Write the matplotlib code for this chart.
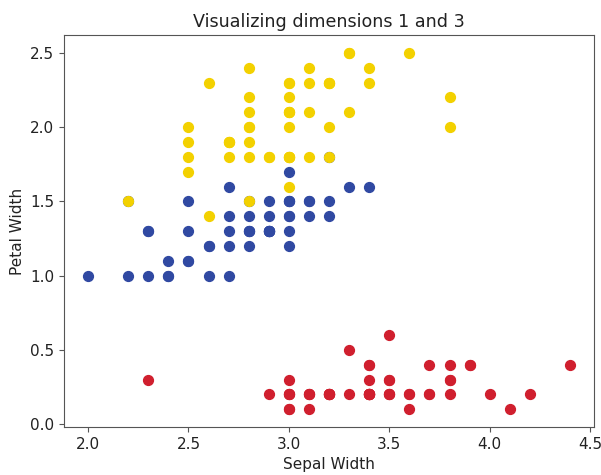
import matplotlib
matplotlib.use("Agg")
import matplotlib.pyplot as plt

# iris: sepal width (dim 1) and petal width (dim 3), per class
setosa_sepal_w = [3.5, 3.0, 3.2, 3.1, 3.6, 3.9, 3.4, 3.4, 2.9, 3.1,
                  3.7, 3.4, 3.0, 3.0, 4.0, 4.4, 3.9, 3.5, 3.8, 3.8,
                  3.4, 3.7, 3.6, 3.3, 3.4, 3.0, 3.4, 3.5, 3.4, 3.2,
                  3.1, 3.4, 4.1, 4.2, 3.1, 3.2, 3.5, 3.6, 3.0, 3.4,
                  3.5, 2.3, 3.2, 3.5, 3.8, 3.0, 3.8, 3.2, 3.7, 3.3]
setosa_petal_w = [0.2, 0.2, 0.2, 0.2, 0.2, 0.4, 0.3, 0.2, 0.2, 0.1,
                  0.2, 0.2, 0.1, 0.1, 0.2, 0.4, 0.4, 0.3, 0.3, 0.3,
                  0.2, 0.4, 0.2, 0.5, 0.2, 0.2, 0.4, 0.2, 0.2, 0.2,
                  0.2, 0.4, 0.1, 0.2, 0.2, 0.2, 0.2, 0.1, 0.2, 0.2,
                  0.3, 0.3, 0.2, 0.6, 0.4, 0.3, 0.2, 0.2, 0.2, 0.2]

versicolor_sepal_w = [3.2, 3.2, 3.1, 2.3, 2.8, 2.8, 3.3, 2.4, 2.9, 2.7,
                      2.0, 3.0, 2.2, 2.9, 2.9, 3.1, 3.0, 2.7, 2.2, 2.5,
                      3.2, 2.8, 2.5, 2.8, 2.9, 3.0, 2.8, 3.0, 2.9, 2.6,
                      2.4, 2.4, 2.7, 2.7, 3.0, 3.4, 3.1, 2.3, 3.0, 2.5,
                      2.6, 3.0, 2.6, 2.3, 2.7, 3.0, 2.9, 2.9, 2.5, 2.8]
versicolor_petal_w = [1.4, 1.5, 1.5, 1.3, 1.5, 1.3, 1.6, 1.0, 1.3, 1.4,
                      1.0, 1.5, 1.0, 1.4, 1.3, 1.4, 1.5, 1.0, 1.5, 1.1,
                      1.8, 1.3, 1.5, 1.2, 1.3, 1.4, 1.4, 1.7, 1.5, 1.0,
                      1.1, 1.0, 1.2, 1.6, 1.5, 1.6, 1.5, 1.3, 1.3, 1.3,
                      1.2, 1.4, 1.2, 1.0, 1.3, 1.2, 1.3, 1.3, 1.1, 1.3]

virginica_sepal_w = [3.3, 2.7, 3.0, 2.9, 3.0, 3.0, 2.5, 2.9, 2.5, 3.6,
                     3.2, 2.7, 3.0, 2.5, 2.8, 3.2, 3.0, 3.8, 2.6, 2.2,
                     3.2, 2.8, 2.8, 2.7, 3.3, 3.2, 2.8, 3.0, 2.8, 3.0,
                     2.8, 3.8, 2.8, 2.8, 2.6, 3.0, 3.4, 3.1, 3.0, 3.1,
                     3.1, 3.1, 2.7, 3.2, 3.3, 3.0, 2.5, 3.0, 3.4, 3.0]
virginica_petal_w = [2.5, 1.9, 2.1, 1.8, 2.2, 2.1, 1.7, 1.8, 1.8, 2.5,
                     2.0, 1.9, 2.1, 2.0, 2.4, 2.3, 1.8, 2.2, 2.3, 1.5,
                     2.3, 2.0, 2.0, 1.8, 2.1, 1.8, 1.8, 1.8, 2.1, 1.6,
                     1.9, 2.0, 2.2, 1.5, 1.4, 2.3, 2.4, 1.8, 1.8, 2.1,
                     2.4, 2.3, 1.9, 2.3, 2.5, 2.3, 1.9, 2.0, 2.3, 1.8]

fig = plt.figure(figsize=(6.01, 4.75), dpi=100)
ax = fig.add_axes([0.1065, 0.101, 0.882, 0.825])

ax.scatter(setosa_sepal_w, setosa_petal_w, color="#d01f2e", s=50)
ax.scatter(versicolor_sepal_w, versicolor_petal_w, color="#3049a2", s=50)
ax.scatter(virginica_sepal_w, virginica_petal_w, color="#f3d100", s=50)

ax.set_title("Visualizing dimensions 1 and 3", fontsize=12.6, color="#222222")
ax.set_xlabel("Sepal Width", fontsize=11, color="#222222")
ax.set_ylabel("Petal Width", fontsize=11, color="#222222")
ax.tick_params(labelsize=11, labelcolor="#222222", color="#555555")
for sp in ax.spines.values():
    sp.set_color("#555555")

fig.savefig("out.png", dpi=100)
